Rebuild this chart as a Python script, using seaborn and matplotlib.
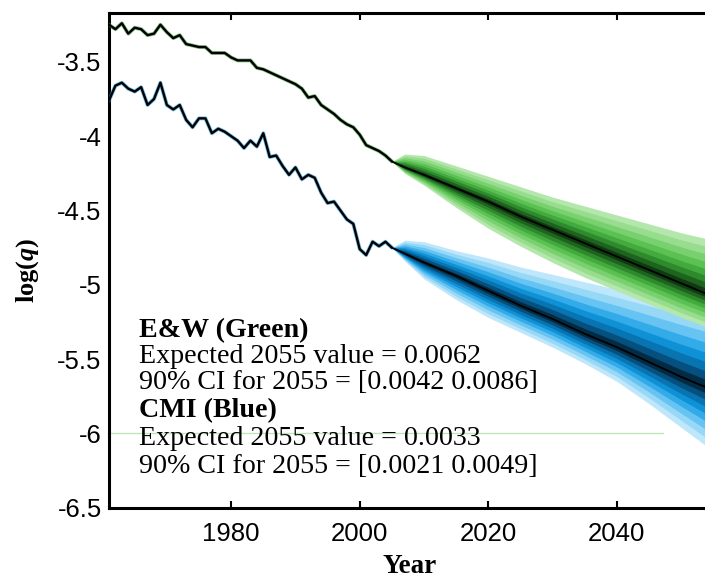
import numpy as np
import pandas as pd
import matplotlib
matplotlib.use("Agg")
import matplotlib.pyplot as plt
import seaborn as sns

# Observed log mortality, 1961-2005
hist_years = list(range(1961, 2006))
ew_hist = [-3.25, -3.28, -3.24, -3.31, -3.27, -3.28, -3.32, -3.31, -3.25, -3.30,
           -3.34, -3.32, -3.38, -3.39, -3.40, -3.40, -3.44, -3.44, -3.44, -3.47,
           -3.49, -3.49, -3.49, -3.54, -3.55, -3.57, -3.59, -3.61, -3.63, -3.65,
           -3.68, -3.74, -3.73, -3.79, -3.82, -3.85, -3.89, -3.92, -3.94, -3.99,
           -4.06, -4.08, -4.10, -4.13, -4.17]
cmi_hist = [-3.76, -3.66, -3.64, -3.68, -3.70, -3.67, -3.79, -3.75, -3.64, -3.79,
            -3.82, -3.79, -3.89, -3.94, -3.88, -3.88, -3.98, -3.95, -3.97, -4.00,
            -4.03, -4.08, -4.03, -4.07, -3.98, -4.14, -4.13, -4.20, -4.26, -4.21,
            -4.29, -4.26, -4.28, -4.38, -4.45, -4.44, -4.50, -4.56, -4.59, -4.76,
            -4.80, -4.71, -4.74, -4.71, -4.75]

# Projection: median path and outer fan limits
fan_years = [2005, 2007, 2010, 2015, 2020, 2025, 2030, 2035, 2040, 2045, 2050, 2055]
ew_median = [-4.17, -4.21, -4.26, -4.35, -4.44, -4.54, -4.63, -4.72, -4.81, -4.90, -4.99, -5.08]
ew_upper = [-4.17, -4.12, -4.13, -4.20, -4.27, -4.34, -4.41, -4.47, -4.53, -4.59, -4.65, -4.70]
ew_lower = [-4.17, -4.25, -4.33, -4.48, -4.62, -4.74, -4.85, -4.95, -5.04, -5.13, -5.22, -5.30]
cmi_median = [-4.75, -4.79, -4.85, -4.94, -5.04, -5.14, -5.23, -5.33, -5.42, -5.52, -5.62, -5.71]
cmi_upper = [-4.75, -4.70, -4.71, -4.77, -4.82, -4.88, -4.93, -4.98, -5.03, -5.08, -5.13, -5.18]
cmi_lower = [-4.75, -4.84, -4.96, -5.10, -5.22, -5.32, -5.42, -5.53, -5.65, -5.80, -5.96, -6.12]

band_levels = [1.0, 0.86, 0.72, 0.58, 0.45, 0.33, 0.21, 0.10]
green_shades = ["#b4e7ac", "#98dc8e", "#79d06f", "#5bc153", "#43aa3e", "#2e8a2d",
                "#1e641e", "#0f3b10"]
blue_shades = ["#bfe7fb", "#98d8f7", "#66c3f2", "#33abe9", "#0f91d5", "#0874b2",
               "#05507e", "#022c45"]

x_ticks = [1980, 2000, 2020, 2040]
y_ticks = [-6.5, -6.0, -5.5, -5.0, -4.5, -4.0, -3.5]
y_tick_labels = ["-6.5", "-6", "-5.5", "-5", "-4.5", "-4", "-3.5"]

annotations = [
    ("E&W (Green)", "bold"),
    ("Expected 2055 value = 0.0062", "normal"),
    ("90% CI for 2055 = [0.0042 0.0086]", "normal"),
    ("CMI (Blue)", "bold"),
    ("Expected 2055 value = 0.0033", "normal"),
    ("90% CI for 2055 = [0.0021 0.0049]", "normal"),
]

sns.set_style("white")
plt.rcParams["font.family"] = ["Liberation Sans", "DejaVu Sans"]
plt.rcParams["axes.unicode_minus"] = False
plt.rcParams["text.color"] = "black"
plt.rcParams["axes.labelcolor"] = "black"
plt.rcParams["xtick.color"] = "black"
plt.rcParams["ytick.color"] = "black"
plt.rcParams["mathtext.fontset"] = "custom"
plt.rcParams["mathtext.it"] = "Liberation Serif:italic:bold"
plt.rcParams["mathtext.rm"] = "Liberation Serif:bold"

fig = plt.figure(figsize=(7.05, 5.78), dpi=100)
ax = fig.add_axes([109.3 / 705, 70.3 / 578, 595.7 / 705, 494.4 / 578])

hist = pd.DataFrame({"year": hist_years, "ew": ew_hist, "cmi": cmi_hist})
proj = pd.DataFrame({"year": fan_years, "ew": ew_median, "cmi": cmi_median})


def draw_fan(med, up, lo, shades, z):
    med = np.asarray(med)
    up = np.asarray(up)
    lo = np.asarray(lo)
    for lvl, col in zip(band_levels, shades):
        ax.fill_between(fan_years, med + lvl * (up - med), med - lvl * (med - lo),
                        color=col, lw=0, zorder=z)


draw_fan(cmi_median, cmi_upper, cmi_lower, blue_shades, 1)
draw_fan(ew_median, ew_upper, ew_lower, green_shades, 2)

# faint reference line at -6
ax.axhline(-6, xmin=0, xmax=0.93, color="#bfe6b8", lw=1.0, zorder=0.5)

# observed series with a thin coloured rim
sns.lineplot(data=hist, x="year", y="ew", ax=ax, color="#3c9c38", lw=2.8, alpha=0.6, zorder=3)
sns.lineplot(data=hist, x="year", y="ew", ax=ax, color="black", lw=1.7, zorder=4)
sns.lineplot(data=hist, x="year", y="cmi", ax=ax, color="#1e8fd0", lw=2.8, alpha=0.6, zorder=3)
sns.lineplot(data=hist, x="year", y="cmi", ax=ax, color="black", lw=1.7, zorder=4)

# projected medians
sns.lineplot(data=proj, x="year", y="ew", ax=ax, color="black", lw=1.3, zorder=4)
sns.lineplot(data=proj, x="year", y="cmi", ax=ax, color="black", lw=1.3, zorder=4)

ax.set_xlim(1961.05, 2053.7)
ax.set_ylim(-6.5, -3.173)
ax.set_xticks(x_ticks)
ax.set_xticklabels([str(t) for t in x_ticks])
ax.set_yticks(y_ticks)
ax.set_yticklabels(y_tick_labels)
ax.set_yticks([-6.0], minor=True)
ax.set_xlabel("")
ax.set_ylabel("")

for side in ["left", "bottom", "top"]:
    ax.spines[side].set_visible(True)
    ax.spines[side].set_color("black")
    ax.spines[side].set_linewidth(2.2)
ax.spines["right"].set_visible(False)

ax.tick_params(axis="x", which="major", direction="in", length=5, width=1.5,
               top=True, bottom=True, labelsize=18.5, pad=10, colors="black")
ax.tick_params(axis="y", which="major", length=0, labelsize=18.5, pad=5.5, colors="black")
ax.tick_params(axis="y", which="minor", direction="in", length=5, width=1.5, left=True)

serif = ["Liberation Serif", "DejaVu Serif"]
baselines = [0.346, 0.2936, 0.241, 0.184, 0.126, 0.071]
for (txt, wt), yb in zip(annotations, baselines):
    ax.text(0.05, yb, txt, transform=ax.transAxes, fontsize=20.2, fontweight=wt,
            family=serif, ha="left", va="baseline", color="black", zorder=6)

ax.text(0.5035, -0.133, "Year", transform=ax.transAxes, fontsize=19.5, fontweight="bold",
        family=serif, ha="center", va="baseline", color="black")
ax.text(-0.138, 0.481, r"log($q$)", transform=ax.transAxes, fontsize=19, fontweight="bold",
        family=serif, rotation=90, ha="center", va="center", color="black")

fig.savefig("out.png", dpi=100)
